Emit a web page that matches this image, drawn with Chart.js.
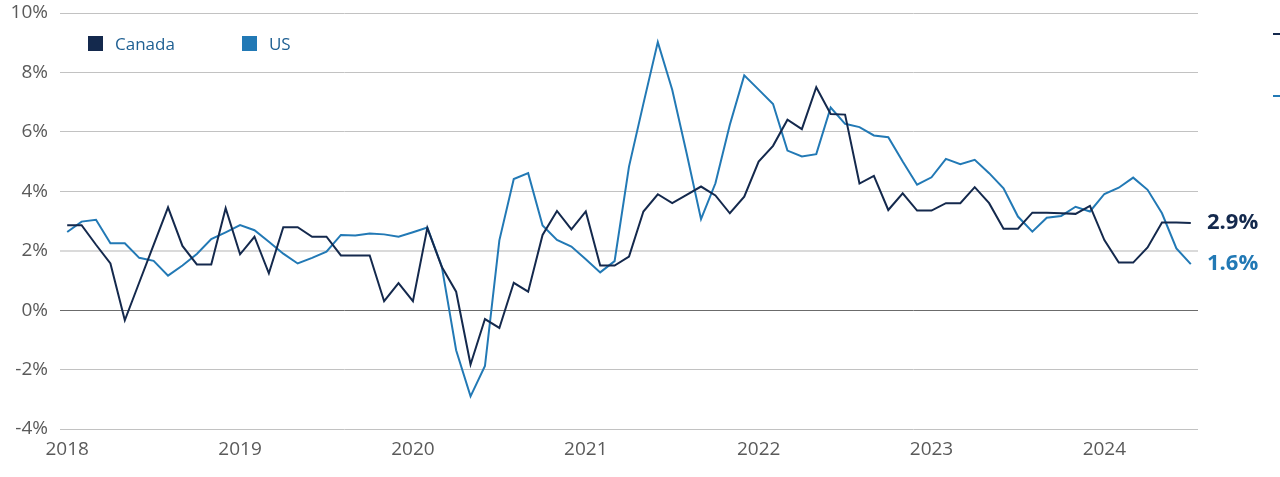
<!DOCTYPE html>
<html>
<head>
<meta charset="utf-8">
<script src="https://cdn.jsdelivr.net/npm/chart.js@4.4.1/dist/chart.umd.min.js"></script>
<style>
  body { margin: 0; background: #fff; font-family: "Open Sans", sans-serif; }
  #wrap { position: relative; width: 1280px; height: 477px; }
  .legend { position: absolute; top: 32px; left: 88px; display: flex; font-size: 17px; color: #1e5f92; }
  .legend .item { display: flex; align-items: center; margin-right: 67px; }
  .legend .box { width: 15px; height: 15px; margin-right: 12px; }
  .stub { position: absolute; left: 1273px; width: 7px; height: 2px; }
</style>
</head>
<body>
<div id="wrap">
  <canvas id="myChart" width="1280" height="477"></canvas>
  <div class="legend">
    <div class="item"><span class="box" style="background:#14294d"></span>Canada</div>
    <div class="item"><span class="box" style="background:#2279b5"></span>US</div>
  </div>
  <div class="stub" style="top:33px;background:#14294d"></div>
  <div class="stub" style="top:95px;background:#2279b5"></div>
</div>
<script>
// monthly, Jan 2018 - Jul 2024 (year over year %)
var years = ['2018', '2019', '2020', '2021', '2022', '2023', '2024'];
var lastMonth = 7;

var canada = [
  2.86, 2.86, 2.20, 1.57, -0.34, 0.93, 2.20, 3.46, 2.16, 1.54, 1.54, 3.43,
  1.88, 2.47, 1.24, 2.79, 2.79, 2.47, 2.47, 1.84, 1.84, 1.84, 0.30, 0.91,
  0.30, 2.77, 1.46, 0.62, -1.83, -0.30, -0.60, 0.92, 0.62, 2.53, 3.34, 2.72,
  3.32, 1.50, 1.50, 1.80, 3.32, 3.90, 3.60, 3.88, 4.16, 3.86, 3.26, 3.82,
  5.00, 5.53, 6.41, 6.09, 7.50, 6.60, 6.58, 4.26, 4.52, 3.37, 3.93, 3.35,
  3.35, 3.60, 3.60, 4.14, 3.60, 2.74, 2.74, 3.28, 3.28, 3.26, 3.24, 3.51,
  2.36, 1.60, 1.60, 2.11, 2.95, 2.95, 2.93
];

var us = [
  2.63, 2.98, 3.04, 2.25, 2.25, 1.76, 1.66, 1.16, 1.50, 1.89, 2.39, 2.62,
  2.86, 2.69, 2.30, 1.90, 1.57, 1.76, 1.97, 2.53, 2.51, 2.58, 2.55, 2.47,
  2.62, 2.78, 1.48, -1.35, -2.90, -1.88, 2.35, 4.41, 4.61, 2.85, 2.36, 2.14,
  1.71, 1.27, 1.65, 4.83, 6.95, 9.02, 7.42, 5.28, 3.06, 4.27, 6.24, 7.90,
  7.42, 6.94, 5.37, 5.17, 5.25, 6.82, 6.27, 6.16, 5.88, 5.82, 5.00, 4.22,
  4.47, 5.09, 4.91, 5.06, 4.61, 4.10, 3.15, 2.64, 3.11, 3.17, 3.48, 3.32,
  3.91, 4.12, 4.46, 4.05, 3.26, 2.08, 1.55
];

var endLabels = ['2.9%', '1.6%'];
var yTicks = [-4, -2, 0, 2, 4, 6, 8, 10];

var months = [];
years.forEach(function (y, i) {
  var n = (i === years.length - 1) ? lastMonth : 12;
  for (var m = 1; m <= n; m++) {
    months.push(y + '-' + (m < 10 ? '0' + m : m));
  }
});

var navy = '#14294d';
var blue = '#2279b5';

var endLabelPlugin = {
  id: 'endLabels',
  afterDatasetsDraw: function (chart) {
    var ctx = chart.ctx;
    var yScale = chart.scales.y;
    ctx.save();
    ctx.font = 'bold 22px "Open Sans"';
    ctx.textBaseline = 'middle';
    ctx.textAlign = 'left';
    chart.data.datasets.forEach(function (ds, i) {
      var v = ds.data[ds.data.length - 1];
      ctx.fillStyle = ds.borderColor;
      ctx.fillText(endLabels[i], chart.chartArea.right + 9, yScale.getPixelForValue(v));
    });
    ctx.restore();
  }
};

var ctx = document.getElementById('myChart');
var myChart = new Chart(ctx, {
  type: 'line',
  data: {
    labels: months,
    datasets: [
      { label: 'Canada', data: canada, borderColor: navy, backgroundColor: navy, borderWidth: 2, pointRadius: 0, tension: 0 },
      { label: 'US', data: us, borderColor: blue, backgroundColor: blue, borderWidth: 2, pointRadius: 0, tension: 0 }
    ]
  },
  options: {
    responsive: false,
    animation: false,
    layout: { padding: { top: 13, right: 82, left: 0, bottom: 0 } },
    plugins: { legend: { display: false }, tooltip: { enabled: false } },
    scales: {
      x: {
        type: 'category',
        offset: true,
        grid: { display: false, drawTicks: false },
        border: { display: false },
        afterFit: function (scale) { scale.height = 48; },
        ticks: {
          autoSkip: false,
          maxRotation: 0,
          padding: 9,
          color: '#5a5a5a',
          font: { family: 'Open Sans', size: 19 },
          callback: function (value) {
            var l = this.getLabelForValue(value);
            return l.slice(5) === '01' ? l.slice(0, 4) : '';
          }
        }
      },
      y: {
        min: yTicks[0],
        max: yTicks[yTicks.length - 1],
        afterFit: function (scale) {
          scale.width = 60;
          scale.paddingTop = 0;
          scale.paddingBottom = 0;
        },
        afterBuildTicks: function (scale) {
          scale.ticks = yTicks.map(function (v) { return { value: v }; });
        },
        border: { display: false },
        grid: {
          drawTicks: false,
          color: function (c) {
            if (c.tick.value === 0) return '#6b6b6b';
            if (c.tick.value === 2) return '#dadada';
            return '#c2c2c2';
          },
          lineWidth: function (c) {
            return c.tick.value === 2 ? 2 : 1;
          }
        },
        ticks: {
          padding: 12,
          color: '#5a5a5a',
          font: { family: 'Open Sans', size: 19 },
          callback: function (v) { return v + '%'; }
        }
      }
    }
  },
  plugins: [endLabelPlugin]
});
</script>
</body>
</html>
